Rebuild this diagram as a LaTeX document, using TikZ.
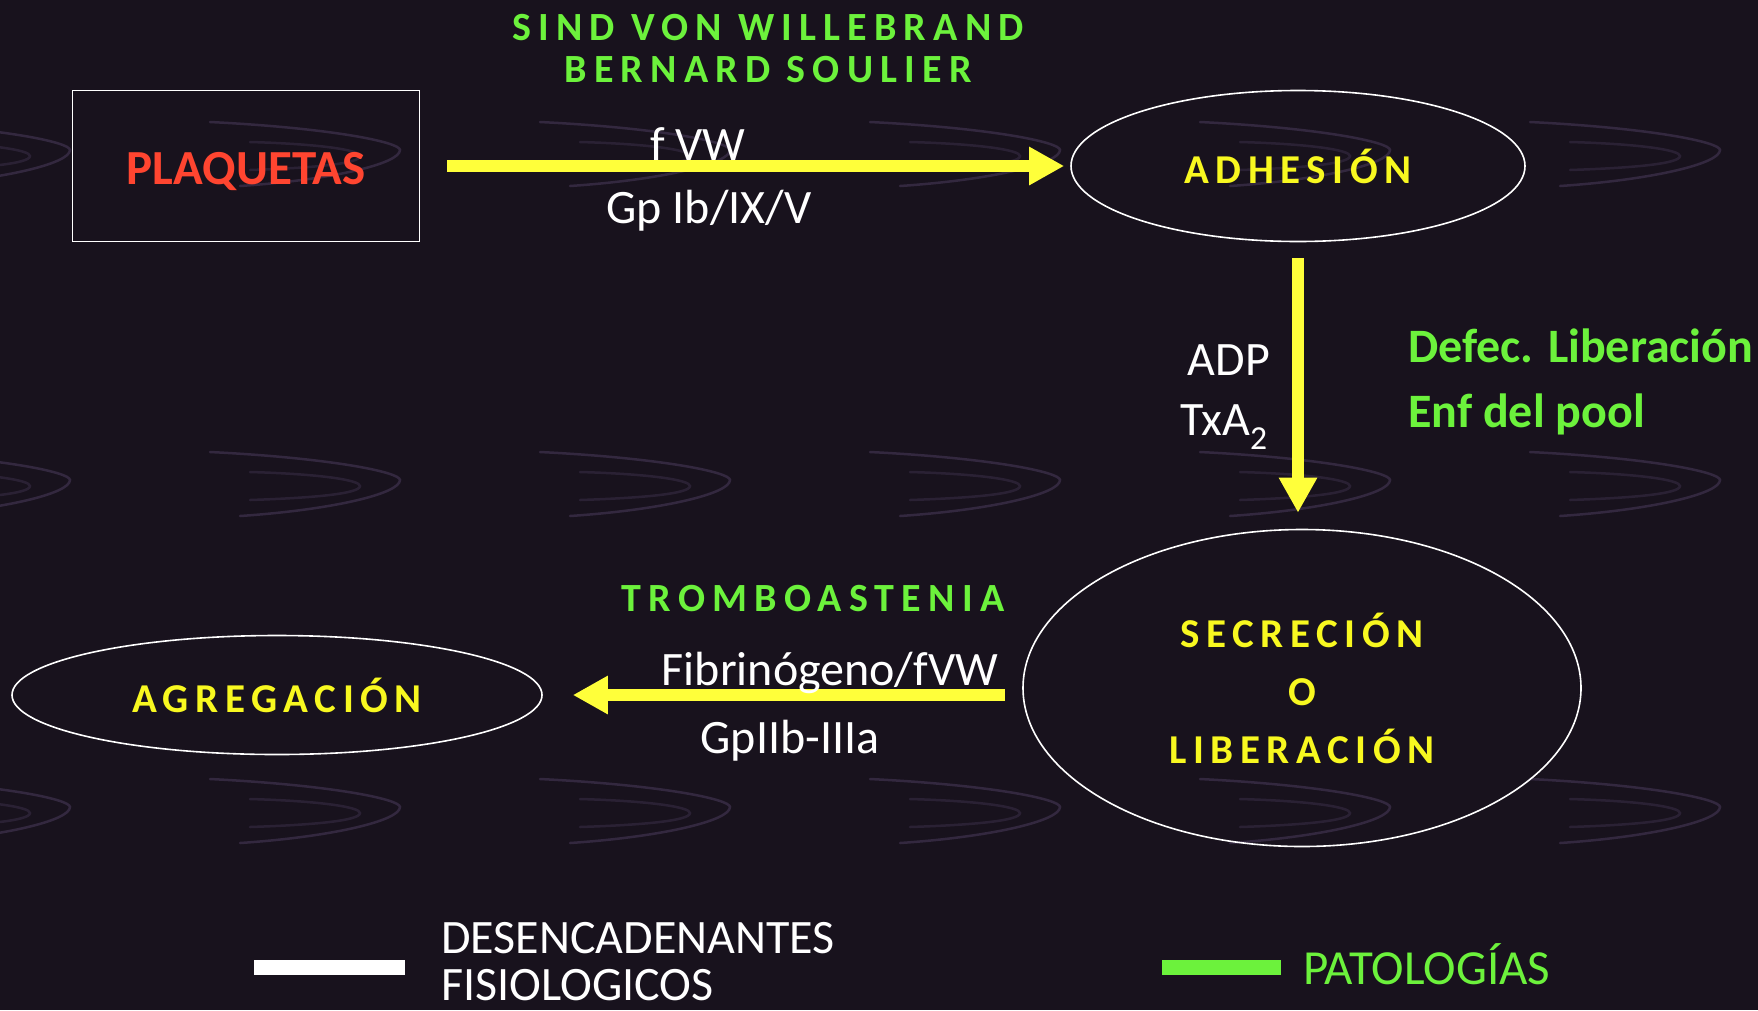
\documentclass[tikz,border=0pt]{standalone}
\usepackage{fontspec}
\setmainfont{Carlito}
\newfontfamily\gspacedfont[LetterSpace=18]{Carlito}
\newfontfamily\yspacedfont[LetterSpace=16]{Carlito}
\usetikzlibrary{arrows.meta,shapes.geometric}
\definecolor{bgc}{HTML}{18121D}
\definecolor{texc}{HTML}{33283F}
\definecolor{ylw}{HTML}{FFFF3A}
\definecolor{ytxt}{HTML}{F8F820}
\definecolor{grn}{HTML}{6CF23C}
\definecolor{redt}{HTML}{FF4530}
\tikzset{
  arr/.style={draw=ylw, line width=12pt, -{Triangle[length=35pt,width=36pt]}},
  wlab/.style={text=white, inner sep=0pt, font=\fontsize{48}{54}\selectfont},
  gtitle/.style={text=grn, inner sep=0pt, font=\gspacedfont\bfseries\fontsize{40}{46}\selectfont},
  gside/.style={text=grn, inner sep=0pt, font=\bfseries\fontsize{48}{52}\selectfont},
  ytitle/.style={text=ytxt, font=\yspacedfont\bfseries\fontsize{41}{58}\selectfont},
  shapeline/.style={draw=white, line width=1.6pt},
  swirl/.style={draw=texc, line width=2.5pt, line cap=round},
}
\begin{document}
\begin{tikzpicture}[x=1pt,y=-1pt]
\fill[bgc] (0,0) rectangle (1758,1010);
\useasboundingbox (0,0) rectangle (1758,1010);

% faint background texture
\foreach \yy in {150,480,807}{
  \foreach \tx in {70,400,730,1060,1390,1720}{
    \draw[swirl] (\tx-190,\yy-28) .. controls (\tx-70,\yy-22) and (\tx,\yy-8) .. (\tx,\yy)
                 .. controls (\tx,\yy+14) and (\tx-70,\yy+30) .. (\tx-160,\yy+36);
    \draw[swirl, opacity=0.7] (\tx-150,\yy-8) .. controls (\tx-80,\yy-6) and (\tx-40,\yy) .. (\tx-40,\yy+6)
                 .. controls (\tx-40,\yy+14) and (\tx-90,\yy+18) .. (\tx-150,\yy+20);
  }
}

% main shapes
\node[shapeline, minimum width=347pt, minimum height=151pt, inner sep=0pt] (plaq) at (246,166) {};
\node[text=redt, inner sep=0pt, font=\bfseries\fontsize{49}{54}\selectfont] (plaqt) at (246,172) {PLAQUETAS};
\node[shapeline, ellipse, minimum width=454pt, minimum height=151pt, inner sep=0pt, ytitle] (adh) at (1298,166) {ADHESIÓN};
\node[shapeline, ellipse, minimum width=558pt, minimum height=317pt, inner sep=0pt, ytitle, align=center] (secr) at (1302,688) {SECRECIÓN\\O\\LIBERACIÓN};
\node[shapeline, ellipse, minimum width=530pt, minimum height=119pt, inner sep=0pt, ytitle] (agg) at (277,695) {AGREGACIÓN};

% arrows
\coordinate (h1) at ([xshift=27pt]plaq.east);
\coordinate (h2) at ([xshift=-6pt]adh.west);
\draw[arr] (h1) -- (h2 |- h1);
\coordinate (v1) at ([yshift=-16pt]adh.south);
\coordinate (v2) at ([yshift=16pt]secr.north);
\draw[arr] (v1) -- (v1 |- v2);
\coordinate (l1) at ([xshift=-17pt]secr.west);
\coordinate (l2) at ([xshift=30pt]agg.east);
\draw[arr] (l1 |- l2) -- (l2);

% top labels
\node[gtitle] (sind) at (768,28) {SIND VON WILLEBRAND};
\node[gtitle] (bern) at (768,70) {BERNARD SOULIER};
\node[wlab] (fvw) at (698,144) {f VW};
\node[wlab] (gpib) at (709,211) {Gp Ib/IX/V};

% vertical labels
\node[wlab] (adp) at (1229,360) {ADP};
\node[wlab] (txa) at (1224,427) {TxA\textsubscript{2}};
\node[gside, anchor=west] (defec) at (1408,346) {Defec. Liberación};
\node[gside, anchor=west] (pool) at (1408,414) {Enf del pool};

% bottom labels
\node[gtitle] (trombo) at (813,599) {TROMBOASTENIA};
\node[wlab] (fibr) at (830,673) {Fibrinógeno/fVW};
\node[wlab] (gpiib) at (790,741) {GpIIb-IIIa};

% legend
\node[fill=white, minimum width=151pt, minimum height=15pt, inner sep=0pt] (legw) at (329.5,967.5) {};
\node[wlab, anchor=base west] (desc1) at (441,953) {DESENCADENANTES};
\node[wlab, anchor=base west] (desc2) at (441,1000) {FISIOLOGICOS};
\node[fill=grn, minimum width=119pt, minimum height=15pt, inner sep=0pt] (legg) at (1221.5,967.5) {};
\node[wlab, text=grn, anchor=base west, font=\fontsize{49}{54}\selectfont] (pato) at (1303,984) {PATOLOGÍAS};
\end{tikzpicture}
\end{document}
